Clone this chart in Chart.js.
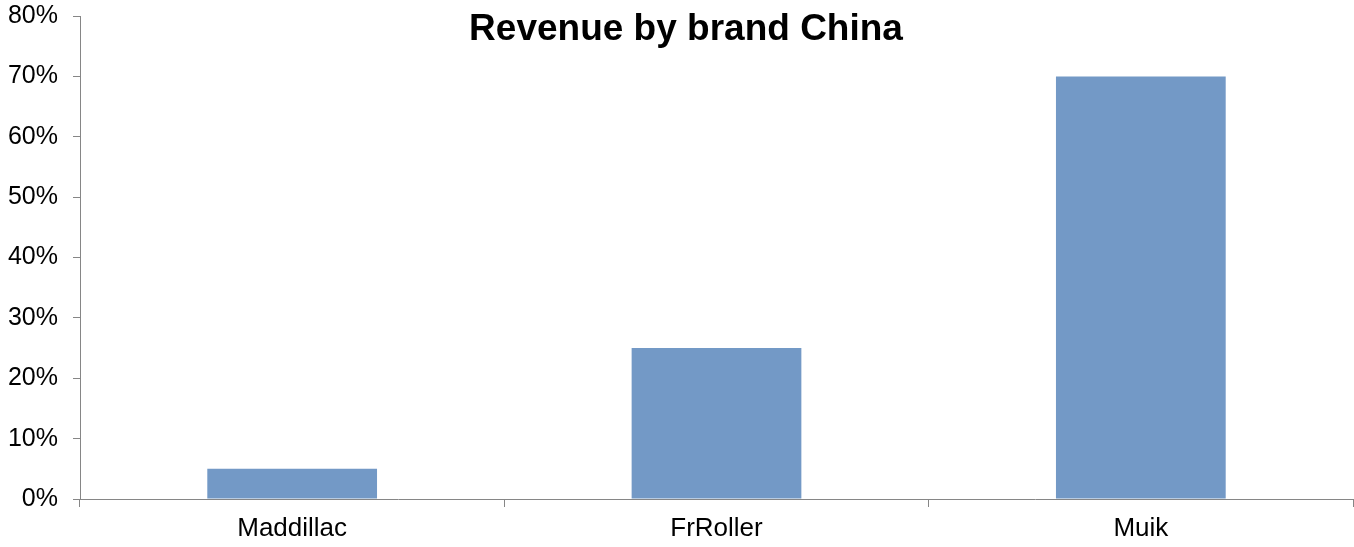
<!DOCTYPE html>
<html>
<head>
<meta charset="utf-8">
<title>Revenue by brand China</title>
<script src="https://cdn.jsdelivr.net/npm/chart.js@4"></script>
<style>
    html, body { margin: 0; padding: 0; background: #fff; }
    #wrap { width: 1354px; height: 547px; position: relative; }
</style>
</head>
<body>
<div id="wrap"><canvas id="chart"></canvas></div>
<script>
const brands = ["Maddillac", "FrRoller", "Muik"];
const shares = [5, 25, 70];
const chartTitle = "Revenue by brand China";

const axisGrey = "#868686";
const fontFamily = "'Liberation Sans', Arial, sans-serif";

// title sits inside the plot area, so draw it by hand instead of reserving space
const titlePlugin = {
    id: "insideTitle",
    afterDraw(chart) {
        const ctx = chart.ctx;
        ctx.save();
        ctx.font = "bold 37px " + fontFamily;
        ctx.fillStyle = "#000";
        ctx.textAlign = "center";
        ctx.textBaseline = "alphabetic";
        ctx.fillText(chartTitle, 686, 40);
        ctx.restore();
    }
};

new Chart(document.getElementById("chart"), {
    type: "bar",
    data: {
        labels: brands,
        datasets: [{
            label: chartTitle,
            data: shares,
            backgroundColor: "#7399c6",
            borderWidth: 0,
            categoryPercentage: 1,
            barPercentage: 0.4
        }]
    },
    options: {
        responsive: true,
        maintainAspectRatio: false,
        animation: false,
        layout: { padding: { top: 16, right: 1, left: 0, bottom: 0 } },
        plugins: {
            legend: { display: false },
            tooltip: { enabled: false }
        },
        scales: {
            x: {
                grid: {
                    drawOnChartArea: false,
                    drawTicks: true,
                    tickLength: 8,
                    color: axisGrey,
                    offset: true
                },
                border: { color: axisGrey, width: 1 },
                ticks: {
                    color: "#000",
                    padding: 6,
                    font: { family: fontFamily, size: 26 }
                },
                afterFit(scale) {
                    scale.height = 48;
                    scale.paddingLeft = 0;
                    scale.paddingRight = 0;
                }
            },
            y: {
                min: 0,
                max: 80,
                grid: {
                    drawOnChartArea: false,
                    drawTicks: true,
                    tickLength: 7,
                    color: axisGrey
                },
                border: { color: axisGrey, width: 1 },
                ticks: {
                    stepSize: 10,
                    color: "#000",
                    padding: 15,
                    font: { family: fontFamily, size: 25 },
                    callback: v => v + "%"
                },
                afterFit(scale) {
                    // let the 80% label hang above the plot instead of pushing it down
                    scale.width = 80;
                    scale.paddingTop = 0;
                    scale.paddingBottom = 0;
                }
            }
        }
    },
    plugins: [titlePlugin]
});
</script>
</body>
</html>
